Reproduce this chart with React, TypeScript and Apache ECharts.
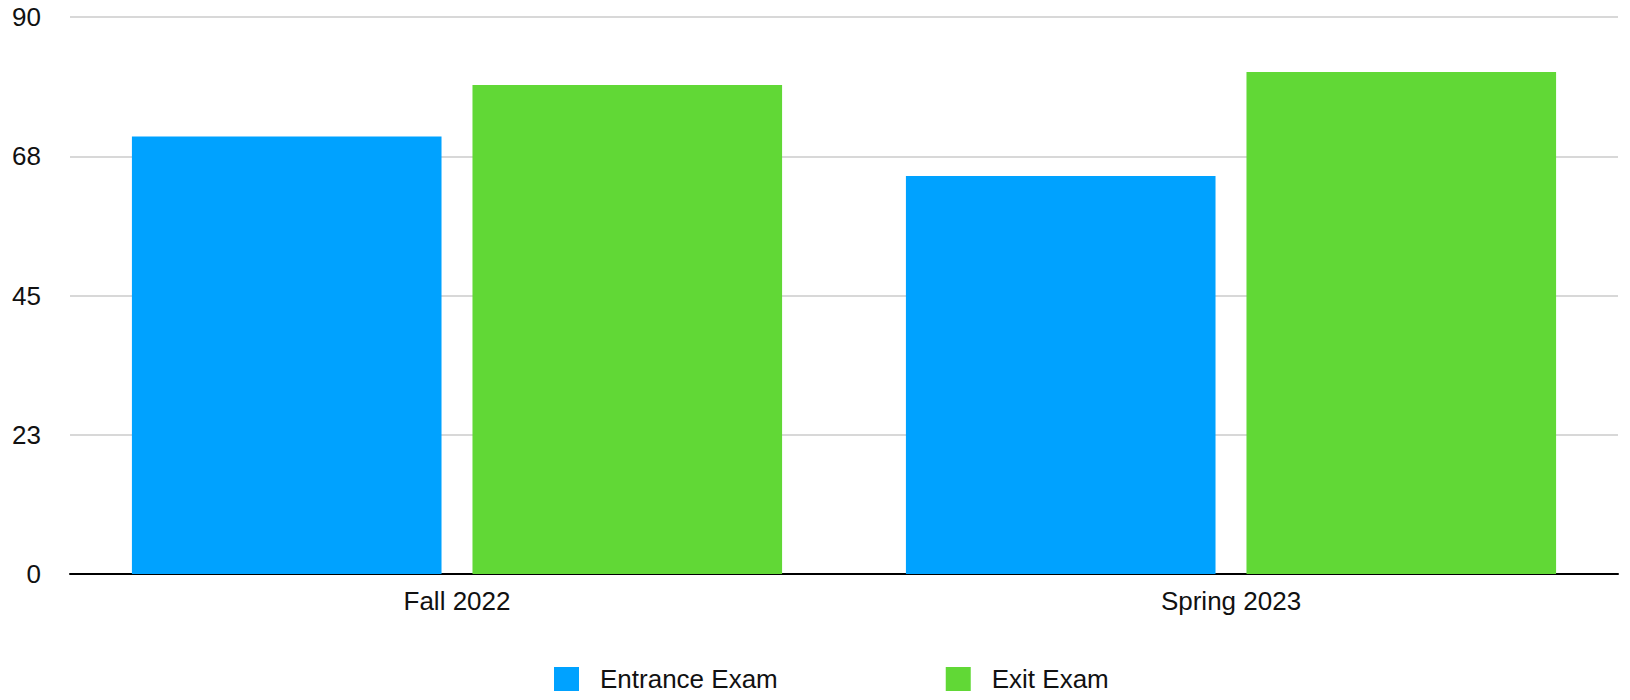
import React, { useEffect, useRef } from "react";
import * as echarts from "echarts";

const categories = ["Fall 2022", "Spring 2023"];
const entranceExam = [70.7, 64.3];
const exitExam = [79.0, 81.1];
const seriesNames = ["Entrance Exam", "Exit Exam"];
const yMin = 0;
const yMax = 90;
const yInterval = 22.5;

export default function App() {
  const ref = useRef<HTMLDivElement>(null);
  useEffect(() => {
    if (!ref.current) return;
    const chart = echarts.init(ref.current, undefined, { renderer: "svg" });
    const font = "'Liberation Sans', Arial, Helvetica, sans-serif";
    chart.setOption({
      animation: false,
      backgroundColor: "#ffffff",
      grid: { left: 70, right: 12, top: 17, bottom: 126, containLabel: false },
      legend: {
        data: seriesNames,
        bottom: 8,
        left: 554,
        padding: 0,
        itemWidth: 25,
        itemHeight: 24,
        itemGap: 168,
        icon: "rect",
        textStyle: { fontFamily: font, fontSize: 26, color: "#111", padding: [0, 0, 0, 16] },
      },
      xAxis: {
        type: "category",
        data: categories,
        axisTick: { show: false },
        axisLine: { show: true, lineStyle: { color: "#000", width: 2 } },
        axisLabel: { fontFamily: font, fontSize: 26, color: "#111", margin: 14 },
      },
      yAxis: {
        type: "value",
        min: yMin,
        max: yMax,
        interval: yInterval,
        axisLine: { show: false },
        axisTick: { show: false },
        splitLine: { lineStyle: { color: "#cbcbcb", width: 1.5 } },
        axisLabel: {
          fontFamily: font,
          fontSize: 26,
          color: "#111",
          margin: 29,
          formatter: (v: number) => String(Math.round(v)),
        },
      },
      series: [
        {
          name: seriesNames[0],
          type: "bar",
          data: entranceExam,
          itemStyle: { color: "#00a2ff" },
          barGap: "10%",
          barCategoryGap: "16%",
        },
        {
          name: seriesNames[1],
          type: "bar",
          data: exitExam,
          itemStyle: { color: "#61d836" },
          barGap: "10%",
          barCategoryGap: "16%",
        },
      ],
    });
    return () => chart.dispose();
  }, []);
  return <div ref={ref} style={{ width: 1630, height: 700, position: "absolute", left: 0, top: 0 }} />;
}
